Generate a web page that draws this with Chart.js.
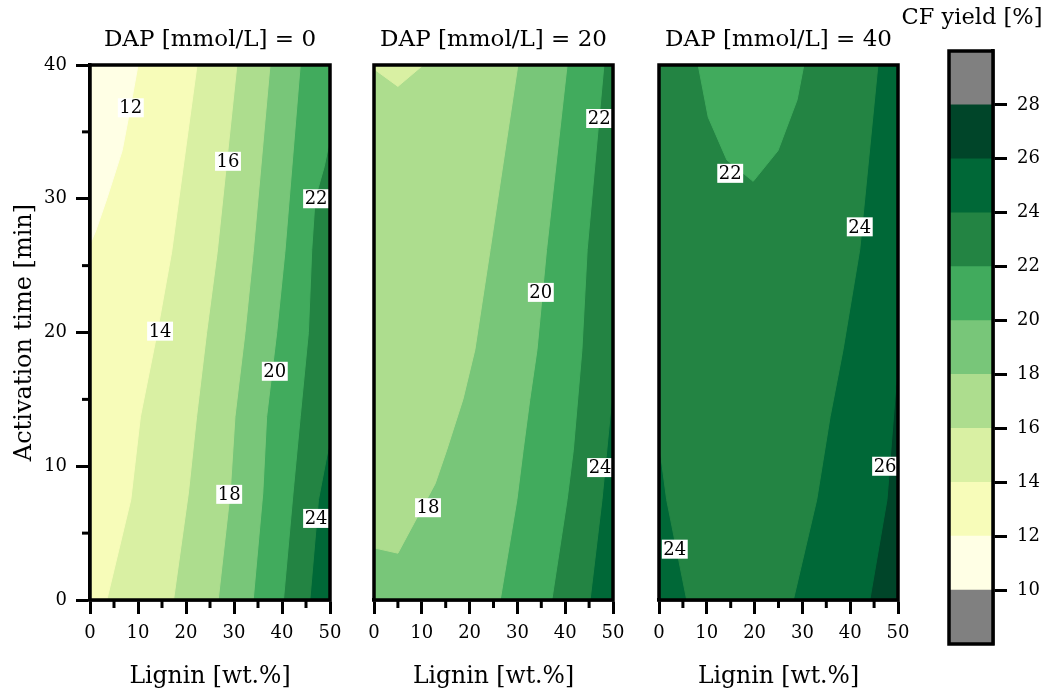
<!DOCTYPE html>
<html>
<head>
<meta charset="utf-8">
<script src="https://cdn.jsdelivr.net/npm/chart.js@4"></script>
<style>
  body { margin: 0; background: #fff; }
  canvas { position: absolute; left: 0; top: 0; }
</style>
</head>
<body>
<canvas id="dap0" width="1047" height="695"></canvas>
<canvas id="dap20" width="1047" height="695"></canvas>
<canvas id="dap40" width="1047" height="695"></canvas>
<canvas id="cbar" width="1047" height="695"></canvas>
<script>
// contour levels of CF yield [%] and the colour of each band between them
const levels = [10, 12, 14, 16, 18, 20, 22, 24, 26, 28];
const bandColors = ['#ffffe5', '#f7fcb9', '#d9f0a3', '#addd8e', '#78c679', '#41ab5d', '#238443', '#006837', '#004529'];
const outOfRange = '#808080';
const cbarLimits = [8, 30];

const dapValues = [0, 20, 40];
const ligninRange = [0, 50];
const timeRange = [0, 40];
const ligninMinor = [5, 15, 25, 35, 45];
const timeMinor = [5, 15, 25, 35];

// contour lines as [level, [[lignin, time], ...]]; the lower-yield side lies left of the walk
const dap0Base = 24;
const dap0Lines = [
  [24, [[50, 12], [47.6, 7.5], [45.8, 0]]],
  [22, [[50, 34.5], [48.8, 32.4], [46.9, 30], [46.2, 26.2], [45.5, 20], [43.8, 13.7], [42.3, 8], [40.3, 0]]],
  [20, [[43.8, 40], [40.6, 26], [38.9, 20], [36.8, 13.7], [36, 8], [34, 0]]],
  [18, [[37.5, 40], [34, 26], [32.3, 20], [30.2, 13.7], [29.2, 8], [26.7, 0]]],
  [16, [[30.6, 40], [26.5, 26], [24.3, 20], [22.2, 13.7], [20.5, 8], [17.4, 0]]],
  [14, [[22.3, 40], [17, 26], [14, 20], [10.5, 13.7], [8.5, 7.5], [3.5, 0]]],
  [12, [[10, 40], [8.4, 36.8], [6.7, 33.6], [3.5, 30], [1.2, 27.6], [0, 26.6]]]
];
const dap0Labels = [[12, 8.5, 36.8], [16, 28.75, 32.8], [22, 47.1, 30], [14, 14.6, 20.1], [20, 38.5, 17.1], [18, 29, 7.9], [24, 47.1, 6.1]];

const dap20Base = 24;
const dap20Lines = [
  [24, [[50, 16], [47.7, 7.5], [45.2, 0]]],
  [22, [[48.1, 40], [44.6, 26.2], [43.5, 18.7], [41.7, 11.2], [40.4, 7.5], [37.2, 0]]],
  [20, [[40.4, 40], [36.1, 26.2], [34.1, 18.7], [32.6, 15], [31.2, 11.2], [29.9, 7.5], [26.4, 0]]],
  [18, [[30.1, 40], [24.3, 26.2], [21.1, 18.7], [18.6, 15], [15.2, 11.2], [12.8, 8.7], [5, 3.5], [0, 3.9]]],
  [16, [[10.3, 40], [5, 38.4], [0, 39.7]]]
];
const dap20Labels = [[22, 47.1, 36], [20, 34.9, 23], [24, 47.3, 9.9], [18, 11.3, 6.9]];

const dap40Base = 26;
const dap40Lines = [
  [26, [[50, 18], [47.7, 7.5], [44.1, 0]]],
  [24, [[45.8, 40], [42, 26.2], [38.5, 18.7], [35.8, 13.7], [33, 7.5], [28.1, 0], [5.8, 0], [1.6, 7.5], [0, 11.8]]],
  [22, [[30.3, 40], [28.9, 37.4], [24.9, 33.6], [19.7, 31.3], [14.2, 32.9], [10.3, 36.1], [8.2, 40]]]
];
const dap40Labels = [[22, 14.9, 31.9], [24, 42, 27.9], [26, 47.3, 10], [24, 3.3, 3.8]];

Chart.defaults.font.family = "'DejaVu Serif', serif";
Chart.defaults.color = '#000';

const W = ligninRange[1], H = timeRange[1];
const PER = 2 * W + 2 * H;

// position along the plot border, clockwise from the top-left corner
function edgePos(p) {
  if (p.y >= H) return p.x;
  if (p.x >= W) return W + (H - p.y);
  if (p.y <= 0) return W + H + (W - p.x);
  return 2 * W + H + p.y;
}
const corners = [
  {t: W, x: W, y: H}, {t: W + H, x: W, y: 0},
  {t: 2 * W + H, x: 0, y: 0}, {t: PER, x: 0, y: H}
];

// close a contour line into a region by following the border clockwise
function closeRegion(pts) {
  const tEnd = edgePos(pts[pts.length - 1]);
  let tStart = edgePos(pts[0]);
  if (tStart <= tEnd) tStart += PER;
  const extra = corners.concat(corners.map(c => ({...c, t: c.t + PER})))
    .filter(c => c.t > tEnd && c.t < tStart)
    .sort((a, b) => a.t - b.t);
  return pts.concat(extra.map(c => ({x: c.x, y: c.y})));
}

function bandBase(level) {
  return {
    id: 'bandBase',
    beforeDatasetsDraw(chart) {
      const {ctx, chartArea: a} = chart;
      ctx.save();
      ctx.fillStyle = bandColors[levels.indexOf(level)];
      ctx.fillRect(a.left, a.top, a.width, a.height);
      ctx.restore();
    }
  };
}

function contourLabels(labels) {
  return {
    id: 'contourLabels',
    afterDatasetsDraw(chart) {
      const {ctx, scales: {x, y}} = chart;
      ctx.save();
      ctx.font = "18px 'DejaVu Serif'";
      ctx.textAlign = 'center';
      ctx.textBaseline = 'middle';
      labels.forEach(([v, lx, ly]) => {
        const px = x.getPixelForValue(lx), py = y.getPixelForValue(ly);
        const w = ctx.measureText(String(v)).width + 3;
        ctx.fillStyle = '#fff';
        ctx.fillRect(px - w / 2, py - 9.5, w, 19);
        ctx.fillStyle = '#000';
        ctx.fillText(String(v), px, py + 1);
      });
      ctx.restore();
    }
  };
}

function frame(minorX, minorY) {
  return {
    id: 'frame',
    afterDraw(chart) {
      const {ctx, chartArea: a, scales} = chart;
      ctx.save();
      ctx.strokeStyle = '#000';
      ctx.lineWidth = 3;
      minorX.forEach(v => {
        const px = scales.x.getPixelForValue(v);
        ctx.beginPath(); ctx.moveTo(px, a.bottom); ctx.lineTo(px, a.bottom + 8); ctx.stroke();
      });
      minorY.forEach(v => {
        const py = scales.y.getPixelForValue(v);
        ctx.beginPath(); ctx.moveTo(a.left, py); ctx.lineTo(a.left - 8, py); ctx.stroke();
      });
      ctx.lineWidth = 3.5;
      ctx.strokeRect(a.left, a.top, a.width, a.height);
      ctx.restore();
    }
  };
}

const axisLine = {
  grid: {drawOnChartArea: false, tickLength: 14, tickWidth: 3, tickColor: '#000'},
  border: {display: true, width: 3.5, color: '#000'}
};

function panelChart(id, dap, base, lines, labels, left, right, withTime) {
  const datasets = lines.map(([level, pts]) => {
    const color = bandColors[levels.indexOf(level) - 1];
    return {
      data: closeRegion(pts.map(([x, y]) => ({x, y}))),
      showLine: true, fill: 'shape', clip: false,
      backgroundColor: color, borderColor: color, borderWidth: 1,
      pointRadius: 0, pointHoverRadius: 0
    };
  }).reverse(); // first dataset ends up on top

  return new Chart(document.getElementById(id), {
    type: 'scatter',
    data: {datasets},
    options: {
      responsive: false,
      animation: false,
      events: [],
      layout: {padding: {left: withTime ? left - 90 : left, right: 1047 - right, top: 0, bottom: 0}},
      plugins: {
        legend: {display: false},
        tooltip: {enabled: false},
        title: {
          display: true, fullSize: false, text: 'DAP [mmol/L] = ' + dap,
          font: {size: 23, weight: 'normal'}, padding: {top: 26, bottom: 11.4}
        }
      },
      scales: {
        x: {
          type: 'linear', min: ligninRange[0], max: ligninRange[1],
          ticks: {stepSize: 10, padding: 9, font: {size: 18}, maxRotation: 0},
          ...axisLine,
          title: {display: true, text: 'Lignin [wt.%]', font: {size: 23.5}, padding: {top: 0, bottom: 4}},
          afterFit: s => { s.height = 95; }
        },
        y: {
          type: 'linear', min: timeRange[0], max: timeRange[1], display: withTime,
          ticks: {stepSize: 10, padding: 9, font: {size: 18}},
          ...axisLine,
          title: {display: true, text: 'Activation time [min]', font: {size: 24}, padding: {top: 10, bottom: 0}},
          afterFit: s => { if (withTime) s.width = 90; }
        }
      }
    },
    plugins: [bandBase(base), contourLabels(labels), frame(ligninMinor, withTime ? timeMinor : [])]
  });
}

panelChart('dap0', dapValues[0], dap0Base, dap0Lines, dap0Labels, 90, 330, true);
panelChart('dap20', dapValues[1], dap20Base, dap20Lines, dap20Labels, 374, 613, false);
panelChart('dap40', dapValues[2], dap40Base, dap40Lines, dap40Labels, 659, 898, false);

// colour bar: one floating bar per band, grey beyond the contour range
const cbarBands = [[cbarLimits[0], levels[0]]]
  .concat(levels.slice(0, -1).map((v, i) => [v, levels[i + 1]]))
  .concat([[levels[levels.length - 1], cbarLimits[1]]]);
const cbarColors = [outOfRange].concat(bandColors, [outOfRange]);

new Chart(document.getElementById('cbar'), {
  type: 'bar',
  data: {
    labels: ['CF yield'],
    datasets: cbarBands.map((b, i) => ({
      data: [b], backgroundColor: cbarColors[i], borderWidth: 0,
      grouped: false, barPercentage: 1, categoryPercentage: 1
    }))
  },
  options: {
    responsive: false,
    animation: false,
    events: [],
    layout: {padding: {left: 897, right: 0, top: 0, bottom: 51}},
    plugins: {
      legend: {display: false},
      tooltip: {enabled: false},
      title: {
        display: true, fullSize: true, text: 'CF yield [%]',
        font: {size: 22.5, weight: 'normal'}, padding: {top: 5, bottom: 19}
      }
    },
    scales: {
      x: {display: false},
      y: {
        type: 'linear', position: 'right', min: cbarLimits[0], max: cbarLimits[1],
        ticks: {stepSize: 2, padding: 10, font: {size: 18}},
        ...axisLine,
        afterBuildTicks: s => { s.ticks = s.ticks.filter(t => t.value >= levels[0] && t.value <= levels[levels.length - 1]); },
        afterFit: s => { s.width = 54; }
      },
      yPad: {
        type: 'linear', axis: 'y', position: 'left', display: true,
        ticks: {display: false}, grid: {display: false}, border: {display: false},
        afterFit: s => { s.width = 52; }
      }
    }
  },
  plugins: [frame([], [])]
});
</script>
</body>
</html>
